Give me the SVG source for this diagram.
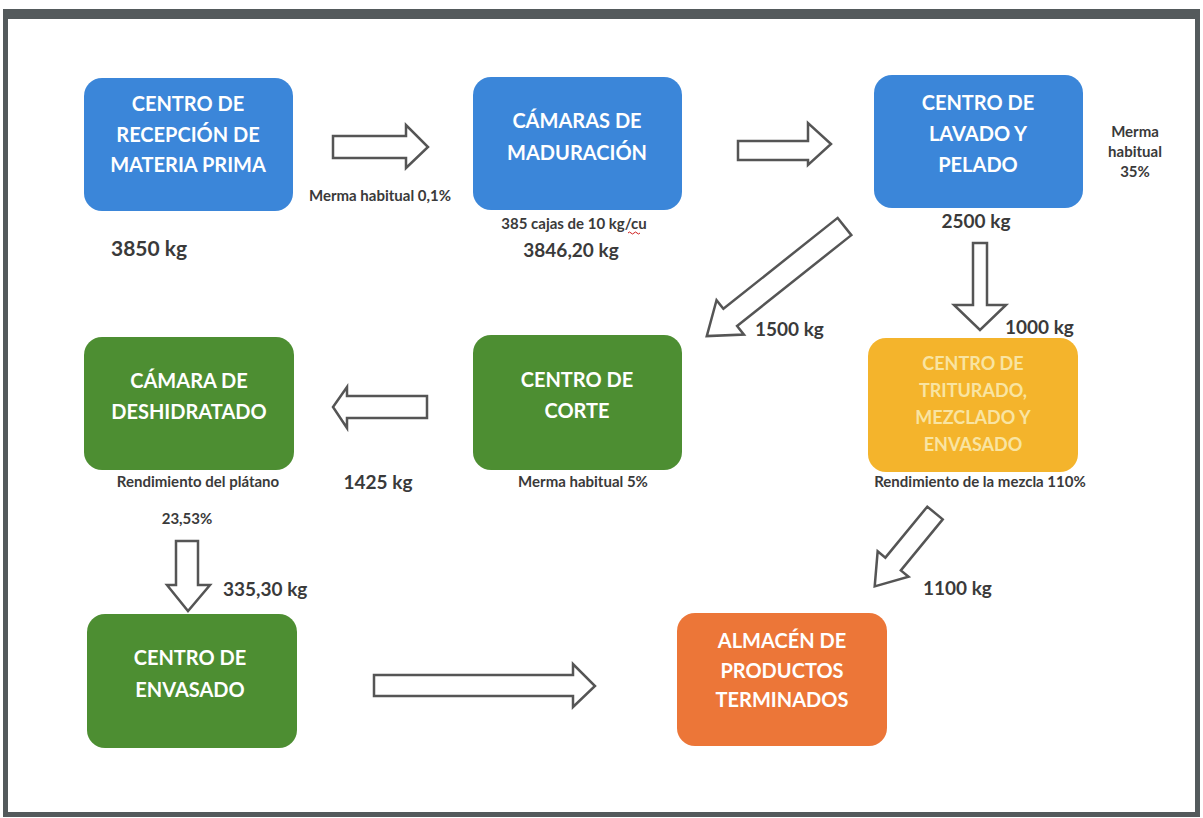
<svg xmlns="http://www.w3.org/2000/svg" width="1203" height="818" viewBox="0 0 1203 818">
<style>
.box text{font-family:Lato,"Open Sans","Liberation Sans",sans-serif;font-weight:bold;font-size:20px;fill:#ffffff;text-anchor:middle}
.blue{fill:#3b86d9}
.green{fill:#4d8e32}
.yellow{fill:#f4b42c}
.orange{fill:#ec7638}
.lbl{font-family:Lato,"Open Sans","Liberation Sans",sans-serif;font-weight:bold;fill:#3a3a3a}
.s{font-size:15px}
.m{font-size:19px}
.arrow{fill:#ffffff;stroke:#555555;stroke-width:2.5;stroke-linejoin:miter}
</style>
<rect x="0" y="0" width="1203" height="818" fill="#ffffff"/>
<rect x="3" y="9" width="1197" height="808" fill="#545a5c"/>
<rect x="8" y="19" width="1187" height="793" fill="#ffffff"/>

<g id="n1" class="box"><rect class="blue" x="84" y="78" width="209" height="133" rx="18"/>
<text x="188" y="111">CENTRO DE</text><text x="188" y="142">RECEPCIÓN DE</text><text x="188" y="172">MATERIA PRIMA</text></g>
<g id="n2" class="box"><rect class="blue" x="473" y="77" width="209" height="133" rx="18"/>
<text x="577" y="128">CÁMARAS DE</text><text x="577" y="160">MADURACIÓN</text></g>
<g id="n3" class="box"><rect class="blue" x="874" y="75" width="209" height="133" rx="18"/>
<text x="978" y="110">CENTRO DE</text><text x="978" y="141">LAVADO Y</text><text x="978" y="172">PELADO</text></g>
<g id="n4" class="box"><rect class="yellow" x="868" y="338" width="210" height="134" rx="18"/>
<text x="973" y="370" style="fill:#f9e4a2;font-size:18px">CENTRO DE</text><text x="973" y="397" style="fill:#f9e4a2;font-size:18px">TRITURADO,</text><text x="973" y="424" style="fill:#f9e4a2;font-size:18px">MEZCLADO Y</text><text x="973" y="451" style="fill:#f9e4a2;font-size:18px">ENVASADO</text></g>
<g id="n5" class="box"><rect class="green" x="84" y="337" width="210" height="133" rx="18"/>
<text x="189" y="388">CÁMARA DE</text><text x="189" y="419">DESHIDRATADO</text></g>
<g id="n6" class="box"><rect class="green" x="473" y="335" width="209" height="135" rx="18"/>
<text x="577" y="387">CENTRO DE</text><text x="577" y="418">CORTE</text></g>
<g id="n7" class="box"><rect class="green" x="87" y="614" width="210" height="134" rx="18"/>
<text x="190" y="665">CENTRO DE</text><text x="190" y="697">ENVASADO</text></g>
<g id="n8" class="box"><rect class="orange" x="677" y="613" width="210" height="133" rx="18"/>
<text x="782" y="648">ALMACÉN DE</text><text x="782" y="678">PRODUCTOS</text><text x="782" y="707">TERMINADOS</text></g>

<g id="connectors">
<path class="arrow" d="M333,136 H406 V125 L428,147 L406,168 V158 H333 Z"/>
<path class="arrow" d="M738,141 H808 V123 L831,144 L808,165 V160 H738 Z"/>
<path class="arrow" d="M973,243 H987 V305 H1006 L980,330 L954,305 H973 Z"/>
<path class="arrow" transform="translate(844.5,226.5) rotate(141.5)" d="M0,-11 H146 V-22 L176,0 L146,22 V11 H0 Z"/>
<path class="arrow" d="M427,396 V418 H347 V428 L333,407 L347,387 V396 Z"/>
<path class="arrow" d="M176,541 H198 V585 H210 L188,611 L167,585 H176 Z"/>
<path class="arrow" d="M374,675 H573 V664 L595,686 L573,707 V696 H374 Z"/>
<path class="arrow" transform="translate(935,513) rotate(129.4)" d="M0,-10 H66 V-20 L95,0 L66,20 V10 H0 Z"/>
</g>

<g id="labels">
<text class="lbl s" x="380" y="201" text-anchor="middle">Merma habitual 0,1%</text>
<text class="lbl" x="111" y="256" style="font-size:21px">3850 kg</text>
<text class="lbl s" x="574" y="229" text-anchor="middle">385 cajas de 10 kg/cu</text>
<path d="M628,233 q1.5,-2 3,0 t3,0 t3,0 t3,0" fill="none" stroke="#d02020" stroke-width="1"/>
<text class="lbl m" x="571" y="257" text-anchor="middle">3846,20 kg</text>
<text class="lbl s" x="1135" y="137" text-anchor="middle">Merma</text>
<text class="lbl s" x="1135" y="157" text-anchor="middle">habitual</text>
<text class="lbl s" x="1135" y="177" text-anchor="middle">35%</text>
<text class="lbl m" x="976" y="228" text-anchor="middle">2500 kg</text>
<text class="lbl m" x="755" y="336">1500 kg</text>
<text class="lbl m" x="1005" y="334">1000 kg</text>
<text class="lbl s" x="980" y="487" text-anchor="middle">Rendimiento de la mezcla 110%</text>
<text class="lbl s" x="198" y="487" text-anchor="middle">Rendimiento del plátano</text>
<text class="lbl s" x="187" y="524" text-anchor="middle">23,53%</text>
<text class="lbl m" x="378" y="489" text-anchor="middle">1425 kg</text>
<text class="lbl s" x="583" y="487" text-anchor="middle">Merma habitual 5%</text>
<text class="lbl m" x="223" y="596">335,30 kg</text>
<text class="lbl m" x="923" y="595">1100 kg</text>
</g>
</svg>
